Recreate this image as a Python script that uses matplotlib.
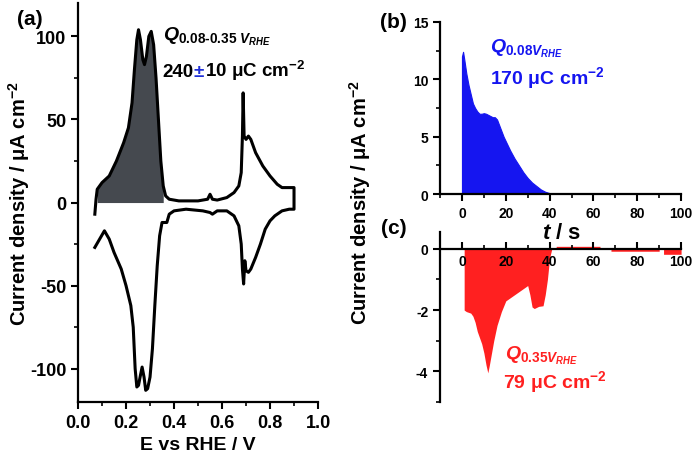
import numpy as np
import matplotlib.pyplot as plt
from matplotlib.ticker import MultipleLocator

plt.rcParams['font.family'] = ['Liberation Sans', 'DejaVu Sans']
plt.rcParams['font.weight'] = 'bold'
plt.rcParams['mathtext.fontset'] = 'custom'
plt.rcParams['mathtext.rm'] = 'Liberation Sans:bold'
plt.rcParams['mathtext.it'] = 'Liberation Sans:bold:italic'
plt.rcParams['mathtext.bf'] = 'Liberation Sans:bold'

# CV, anodic sweep (0.07 -> 0.9 V)
E_an = [0.07, 0.075, 0.08, 0.10, 0.13, 0.16, 0.19, 0.21, 0.225, 0.235, 0.245, 0.252,
        0.26, 0.27, 0.277, 0.285, 0.295, 0.305, 0.315, 0.325, 0.335, 0.345, 0.355,
        0.365, 0.38, 0.42, 0.50, 0.54, 0.55, 0.56, 0.58, 0.62, 0.65, 0.67, 0.68,
        0.685, 0.688, 0.692, 0.70, 0.71, 0.72, 0.74, 0.77, 0.80, 0.83, 0.85, 0.90]
j_an = [-7, 2, 8, 12, 16, 25, 36, 45, 60, 80, 98, 104,
        98, 86, 83, 88, 100, 103, 95, 75, 50, 25, 10,
        4, 2, 1, 1, 2, 5, 2, 1.5, 3, 6, 10, 18,
        40, 66, 40, 38, 40, 38, 30, 22, 16, 11, 9, 9]
# CV, cathodic sweep (0.9 -> 0.07 V)
E_ca = [0.90, 0.90, 0.88, 0.85, 0.82, 0.80, 0.78, 0.76, 0.74, 0.72, 0.71, 0.70,
        0.695, 0.69, 0.685, 0.68, 0.67, 0.65, 0.62, 0.58, 0.56, 0.55, 0.52, 0.45,
        0.40, 0.38, 0.37, 0.35, 0.34, 0.33, 0.32, 0.31, 0.30, 0.29, 0.282, 0.275,
        0.267, 0.26, 0.252, 0.245, 0.238, 0.23, 0.22, 0.20, 0.18, 0.15, 0.13, 0.11,
        0.09, 0.07]
j_ca = [9, -4, -4, -5, -8, -11, -16, -25, -33, -40, -42, -41,
        -35, -49, -40, -25, -14, -8, -5, -5, -7, -6, -5, -4,
        -5, -7, -12, -12, -20, -38, -62, -88, -105, -112, -113, -105,
        -99, -104, -110, -111, -100, -75, -62, -50, -40, -30, -22, -17,
        -22, -27]

# chronoamperometry at 0.08 V
t_b = [0, 0, 0.5, 1, 2, 3, 4, 5, 6, 7, 8, 9, 10, 11, 12, 13, 14, 15, 16, 17, 18,
       19, 20, 22, 24, 26, 28, 30, 32, 34, 36, 38, 40, 42, 44, 46, 48, 48]
j_b = [0, 12.0, 12.4, 11.8, 10.5, 9.5, 8.7, 7.9, 7.5, 7.2, 7.0, 7.0, 7.05, 7.0,
       6.9, 6.8, 6.7, 6.7, 6.5, 6.0, 5.5, 5.0, 4.6, 3.8, 3.1, 2.5, 1.9, 1.4, 1.0,
       0.7, 0.4, 0.2, 0.08, 0.05, 0.05, 0.05, 0.05, 0]

# chronoamperometry at 0.35 V
t_c = [0, 1, 1, 2, 4, 5, 6, 7, 8, 9, 10, 11, 11.8, 12.5, 13.5, 14.5, 16, 18, 20,
       22, 24, 26, 28, 30, 31, 32, 33, 35, 37, 38, 39, 40, 41, 43, 43, 63, 63,
       68, 68, 90, 90, 92, 92, 100]
j_c = [0, 0, -2.0, -2.05, -2.1, -2.2, -2.4, -2.7, -2.9, -3.1, -3.4, -3.8, -4.05,
       -3.8, -3.4, -3.0, -2.5, -2.05, -1.7, -1.6, -1.5, -1.4, -1.3, -1.2, -1.5,
       -1.9, -1.95, -1.88, -1.86, -1.5, -1.0, -0.3, 0, 0, 0.08, 0.08, 0,
       0, -0.08, -0.08, 0, 0, -0.18, -0.18]

fig = plt.figure(figsize=(6.93, 4.60), dpi=100)

# ---- (a)
ax = fig.add_axes([0.1126, 0.124, 0.3463, 0.867])
ax.plot(E_an + E_ca, j_an + j_ca, 'k-', lw=2.2)
E_an = np.array(E_an)
j_an = np.array(j_an)
m = (E_an >= 0.08) & (E_an <= 0.355)
ax.fill_between(E_an[m], 0, j_an[m], color='#45494f', lw=0)
ax.set_xlim(0, 1.0)
ax.set_ylim(-120, 120)
ax.xaxis.set_minor_locator(MultipleLocator(0.1))
ax.yaxis.set_minor_locator(MultipleLocator(25))
ax.set_xticks([0, 0.2, 0.4, 0.6, 0.8, 1.0])
ax.set_xticklabels(['0.0', '0.2', '0.4', '0.6', '0.8', '1.0'])
ax.set_yticks([-100, -50, 0, 50, 100])
ax.set_yticklabels(['-100', '-50', '0', '50', '100'])
ax.set_xlabel('E vs RHE / V', fontsize=14, fontweight='bold', labelpad=4)
fig.text(0.027, 0.558, 'Current density / μA cm$^{-2}$', fontsize=14.5, fontweight='bold',
         rotation=90, ha='center', va='center')
ax.text(-0.255, 0.985, '(a)', transform=ax.transAxes, fontsize=15, fontweight='bold', va='top')
fig.text(0.235, 0.912, r'$Q_{\mathit{0.08}\text{-}\mathit{0.35}\ V_{RHE}}$', fontsize=14)
fig.text(0.235, 0.833, '240', fontsize=13.5, fontweight='bold', color='k')
fig.text(0.279, 0.833, '±', fontsize=13.5, fontweight='bold', color='#1f2fd8')
fig.text(0.296, 0.833, '10 μC cm$^{-2}$', fontsize=13.5, fontweight='bold', color='k')

# ---- (b)
axb = fig.add_axes([0.635, 0.576, 0.3478, 0.374])
axb.fill_between(t_b, 0, j_b, color='#1515f0', lw=0.8, edgecolor='#1515f0')
axb.set_xlim(-10, 100)
axb.set_ylim(0, 15)
axb.xaxis.set_major_locator(MultipleLocator(20))
axb.xaxis.set_minor_locator(MultipleLocator(10))
axb.yaxis.set_major_locator(MultipleLocator(5))
axb.yaxis.set_minor_locator(MultipleLocator(2.5))
axb.text(-0.25, 1.06, '(b)', transform=axb.transAxes, fontsize=15, fontweight='bold', va='top')
fig.text(0.707, 0.885, r'$Q_{\mathit{0.08}V_{RHE}}$', fontsize=14, color='#1515f0')
fig.text(0.707, 0.818, '170 μC cm$^{-2}$', fontsize=14, fontweight='bold', color='#1515f0')

# ---- (c)
axc = fig.add_axes([0.635, 0.124, 0.3478, 0.3696])
axc.fill_between(t_c, 0, j_c, color='#ff2020', lw=0)
axc.set_xlim(-10, 100)
axc.set_ylim(-5, 0.55)
axc.spines['bottom'].set_position(('data', 0))
axc.xaxis.set_major_locator(MultipleLocator(20))
axc.xaxis.set_minor_locator(MultipleLocator(10))
axc.yaxis.set_minor_locator(MultipleLocator(1))
axc.set_yticks([-4, -2, 0])
axc.set_yticklabels(['-4', '-2', '0'])
axc.text(-0.245, 1.08, '(c)', transform=axc.transAxes, fontsize=15, fontweight='bold', va='top')
fig.text(0.811, 0.493, r'$t$ / s', fontsize=16, fontweight='bold', ha='center', va='center')
fig.text(0.728, 0.217, r'$Q_{\mathit{0.35}V_{RHE}}$', fontsize=14, color='#ff2020')
fig.text(0.726, 0.157, '79 μC cm$^{-2}$', fontsize=14, fontweight='bold', color='#ff2020')

fig.text(0.52, 0.56, 'Current density / μA cm$^{-2}$', fontsize=14.5, fontweight='bold',
         rotation=90, ha='center', va='center')

for a in (ax, axb, axc):
    a.spines['top'].set_visible(False)
    a.spines['right'].set_visible(False)
    a.spines['left'].set_linewidth(1.6)
    a.spines['bottom'].set_linewidth(1.6)
    a.tick_params(which='major', direction='out', length=5, width=1.5)
    a.tick_params(which='minor', direction='out', length=3, width=1.2)
axc.tick_params(axis='x', which='both', direction='in')
ax.tick_params(labelsize=13)
axb.tick_params(labelsize=10)
axc.tick_params(labelsize=10)
for lab in ax.get_xticklabels() + ax.get_yticklabels() + axb.get_xticklabels() + \
        axb.get_yticklabels() + axc.get_xticklabels() + axc.get_yticklabels():
    lab.set_fontweight('bold')

fig.savefig('out.png', dpi=100)
